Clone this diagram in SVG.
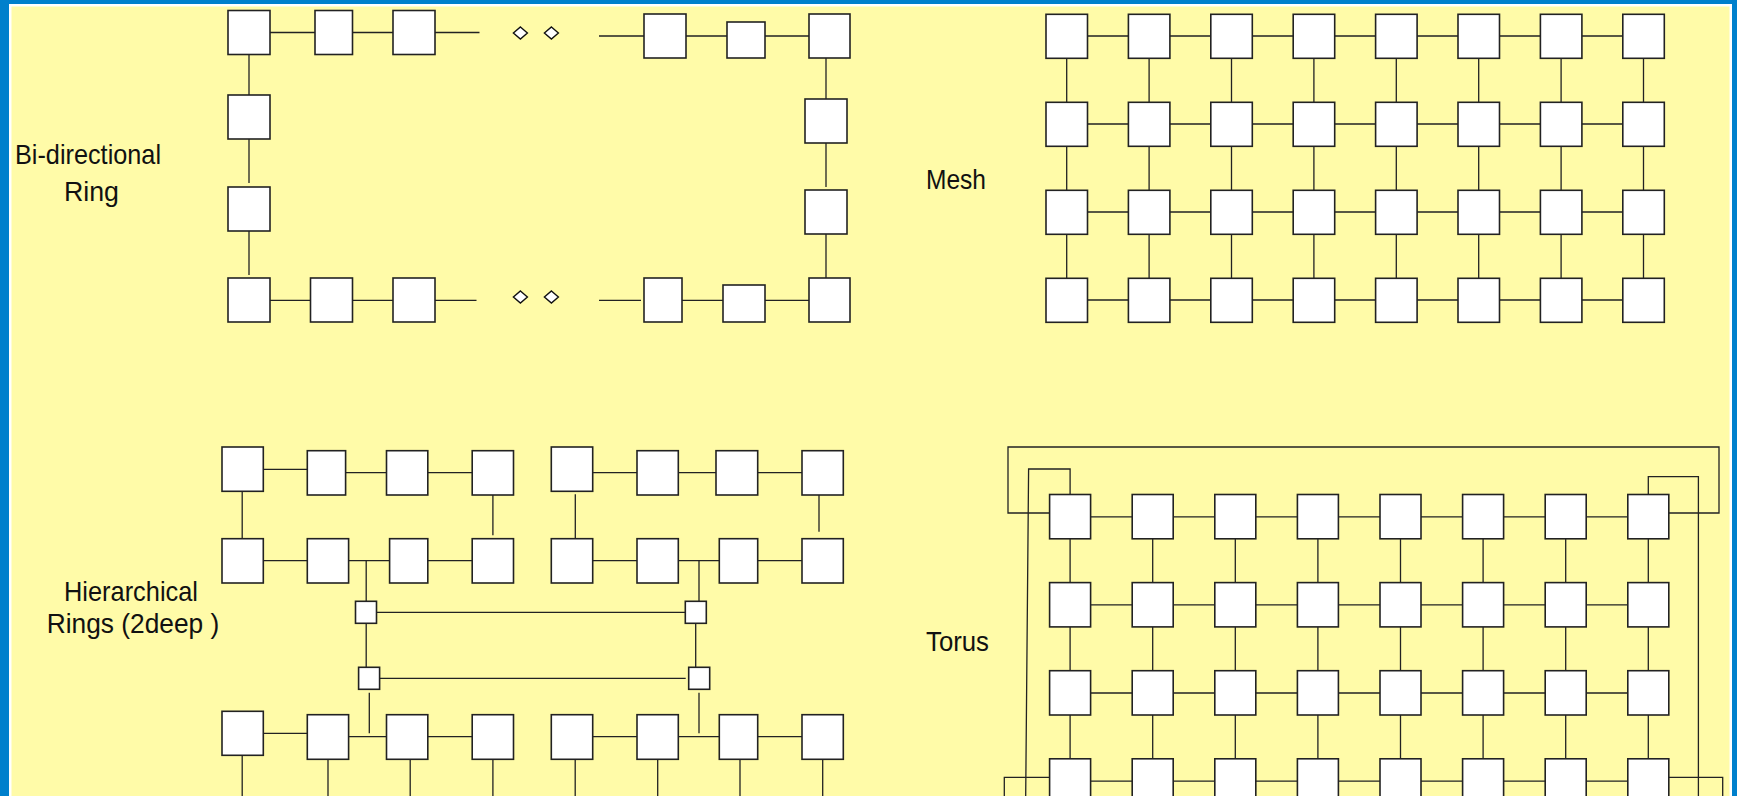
<svg xmlns="http://www.w3.org/2000/svg" width="1737" height="796" viewBox="0 0 1737 796">
<style>
.n{fill:#fff;stroke:#222;stroke-width:1.6}
.d{fill:#fff;stroke:#111;stroke-width:1.4}
.c path{fill:none;stroke:#222;stroke-width:1.3}
.t{font-family:"Liberation Sans",Arial,sans-serif;font-size:28px;fill:#111}
</style>
<rect x="0" y="0" width="1737" height="796" fill="#0080cc"/>
<rect x="9" y="4" width="1723" height="792" fill="#ffffff"/>
<rect x="11.5" y="6.5" width="1718" height="790" fill="#fffba8"/>

<g id="labels">
<text class="t" x="15" y="163.5" textLength="146" lengthAdjust="spacingAndGlyphs">Bi-directional</text>
<text class="t" x="64" y="200.5" textLength="55" lengthAdjust="spacingAndGlyphs">Ring</text>
<text class="t" x="926" y="189" textLength="60" lengthAdjust="spacingAndGlyphs">Mesh</text>
<text class="t" x="64" y="600.7" textLength="134" lengthAdjust="spacingAndGlyphs">Hierarchical</text>
<text class="t" x="46.7" y="632.7" textLength="172.6" lengthAdjust="spacingAndGlyphs">Rings (2deep )</text>
<text class="t" x="926" y="651" textLength="63" lengthAdjust="spacingAndGlyphs">Torus</text>
</g>

<!-- connectors -->
<g id="connectors" class="c">
<!-- ring -->
<path d="M270 32.5H315M352 32.5H395M435 32.5H479.5"/>
<path d="M599 36H644M682 36H727M765 36H809"/>
<path d="M826 54V99M826 143V187M826 234V278"/>
<path d="M266 300.3H310M352 300.3H393M435 300.3H476.5"/>
<path d="M599 300.3H641M682 300.3H727M765 300.3H809"/>
<path d="M249 54V97M249 139V183M249 231V275"/>
<!-- mesh -->
<path d="M1083 36H1128.4M1165.4 36H1210.8M1247.8 36H1293.2M1330.2 36H1375.6M1412.6 36H1458M1495 36H1540.4M1577.4 36H1622.8"/>
<path d="M1083 124H1128.4M1165.4 124H1210.8M1247.8 124H1293.2M1330.2 124H1375.6M1412.6 124H1458M1495 124H1540.4M1577.4 124H1622.8"/>
<path d="M1083 212H1128.4M1165.4 212H1210.8M1247.8 212H1293.2M1330.2 212H1375.6M1412.6 212H1458M1495 212H1540.4M1577.4 212H1622.8"/>
<path d="M1083 300H1128.4M1165.4 300H1210.8M1247.8 300H1293.2M1330.2 300H1375.6M1412.6 300H1458M1495 300H1540.4M1577.4 300H1622.8"/>
<path d="M1066.7 58V102M1066.7 146V190M1066.7 234V278"/>
<path d="M1149.1 58V102M1149.1 146V190M1149.1 234V278"/>
<path d="M1231.5 58V102M1231.5 146V190M1231.5 234V278"/>
<path d="M1313.9 58V102M1313.9 146V190M1313.9 234V278"/>
<path d="M1396.3 58V102M1396.3 146V190M1396.3 234V278"/>
<path d="M1478.7 58V102M1478.7 146V190M1478.7 234V278"/>
<path d="M1561.1 58V102M1561.1 146V190M1561.1 234V278"/>
<path d="M1643.5 58V102M1643.5 146V190M1643.5 234V278"/>
<!-- hierarchical -->
<path d="M263.3 469.3H307.3M345.6 472.7H386.5M427.8 472.7H472.2M242.2 491.3V538.7M492.9 491V535.3"/>
<path d="M592.7 472.7H637M674.7 472.7H720M757.7 472.7H802M575.3 494.3V538.7M819 495V531.7"/>
<path d="M263.3 560.7H307.3M345.6 560.7H389.6M427.8 560.7H472.2M592.7 560.7H637M674.7 560.7H719.3M757.7 560.7H802"/>
<path d="M366.2 560.7V601.3M699 560.7V601.3M376.5 612.3H685.3M366.2 623.3V667.3M695.7 623.3V667.3M379.6 678.3H685.7M369.3 692.7V733.3M699 692.7V733.3"/>
<path d="M263.3 733.3H307.3M345.6 736.7H386.5M427.8 736.7H472.2M592.7 736.7H637M674.7 736.7H719.3M757.7 736.7H802"/>
<path d="M242.2 755.3V796M328 759.3V796M410.2 759.3V796M492.9 759.3V796M575.2 759.3V796M657.7 759.3V796M740 759.3V796M822.7 759.3V796"/>
<!-- torus -->
<path d="M1087 516.8H1132.2M1169.7 516.8H1214.8M1252.3 516.8H1297.4M1334.9 516.8H1380M1417.5 516.8H1462.6M1500.1 516.8H1545.2M1582.7 516.8H1627.8"/>
<path d="M1087 604.9H1132.2M1169.7 604.9H1214.8M1252.3 604.9H1297.4M1334.9 604.9H1380M1417.5 604.9H1462.6M1500.1 604.9H1545.2M1582.7 604.9H1627.8"/>
<path d="M1087 693H1132.2M1169.7 693H1214.8M1252.3 693H1297.4M1334.9 693H1380M1417.5 693H1462.6M1500.1 693H1545.2M1582.7 693H1627.8"/>
<path d="M1087 781.1H1132.2M1169.7 781.1H1214.8M1252.3 781.1H1297.4M1334.9 781.1H1380M1417.5 781.1H1462.6M1500.1 781.1H1545.2M1582.7 781.1H1627.8"/>
<path d="M1070.1 538.8V582.6M1070.1 626.9V670.7M1070.1 715V758.8"/>
<path d="M1152.7 538.8V582.6M1152.7 626.9V670.7M1152.7 715V758.8"/>
<path d="M1235.3 538.8V582.6M1235.3 626.9V670.7M1235.3 715V758.8"/>
<path d="M1317.9 538.8V582.6M1317.9 626.9V670.7M1317.9 715V758.8"/>
<path d="M1400.5 538.8V582.6M1400.5 626.9V670.7M1400.5 715V758.8"/>
<path d="M1483.1 538.8V582.6M1483.1 626.9V670.7M1483.1 715V758.8"/>
<path d="M1565.7 538.8V582.6M1565.7 626.9V670.7M1565.7 715V758.8"/>
<path d="M1648.3 538.8V582.6M1648.3 626.9V670.7M1648.3 715V758.8"/>
<path d="M1049.6 513H1008V447H1719V513H1668.8"/>
<path d="M1070.1 494.5V469H1028.6L1025.7 796"/>
<path d="M1648.3 499V476.7H1698.4V796"/>
<path d="M1049.6 777.3H1004.3V796"/>
<path d="M1668.8 777.3H1722.7V796"/>
</g>

<!-- bi-directional ring nodes -->
<g id="ring-t1"><rect class="n" x="228" y="10.5" width="42" height="44"/></g>
<g id="ring-t2"><rect class="n" x="315" y="10.5" width="37.5" height="44"/></g>
<g id="ring-t3"><rect class="n" x="393" y="10.5" width="42" height="44"/></g>
<g id="ring-t4"><rect class="n" x="644" y="14" width="42" height="44"/></g>
<g id="ring-t5"><rect class="n" x="727" y="22" width="38" height="36"/></g>
<g id="ring-t6"><rect class="n" x="809" y="14" width="41" height="44"/></g>
<g id="ring-l1"><rect class="n" x="228" y="95" width="42" height="44"/></g>
<g id="ring-l2"><rect class="n" x="228" y="187" width="42" height="44"/></g>
<g id="ring-r1"><rect class="n" x="805" y="99" width="42" height="44"/></g>
<g id="ring-r2"><rect class="n" x="805" y="190" width="42" height="44"/></g>
<g id="ring-b1"><rect class="n" x="228" y="278" width="42" height="44"/></g>
<g id="ring-b2"><rect class="n" x="310.5" y="278" width="42" height="44"/></g>
<g id="ring-b3"><rect class="n" x="393" y="278" width="42" height="44"/></g>
<g id="ring-b4"><rect class="n" x="644" y="278" width="38" height="44"/></g>
<g id="ring-b5"><rect class="n" x="723" y="285" width="42" height="37"/></g>
<g id="ring-b6"><rect class="n" x="809" y="278" width="41" height="44"/></g>
<g id="ring-ellipsis">
<polygon class="d" points="520.4,27 527.4,33 520.4,39 513.4,33"/>
<polygon class="d" points="551.4,27 558.4,33 551.4,39 544.4,33"/>
<polygon class="d" points="520.4,291 527.4,297 520.4,303 513.4,297"/>
<polygon class="d" points="551.4,291 558.4,297 551.4,303 544.4,297"/>
</g>

<!-- mesh nodes -->
<g id="mesh-r1">
<rect class="n" x="1046" y="14.3" width="41.5" height="44"/><rect class="n" x="1128.4" y="14.3" width="41.5" height="44"/><rect class="n" x="1210.8" y="14.3" width="41.5" height="44"/><rect class="n" x="1293.2" y="14.3" width="41.5" height="44"/><rect class="n" x="1375.6" y="14.3" width="41.5" height="44"/><rect class="n" x="1458" y="14.3" width="41.5" height="44"/><rect class="n" x="1540.4" y="14.3" width="41.5" height="44"/><rect class="n" x="1622.8" y="14.3" width="41.5" height="44"/>
</g>
<g id="mesh-r2">
<rect class="n" x="1046" y="102.3" width="41.5" height="44"/><rect class="n" x="1128.4" y="102.3" width="41.5" height="44"/><rect class="n" x="1210.8" y="102.3" width="41.5" height="44"/><rect class="n" x="1293.2" y="102.3" width="41.5" height="44"/><rect class="n" x="1375.6" y="102.3" width="41.5" height="44"/><rect class="n" x="1458" y="102.3" width="41.5" height="44"/><rect class="n" x="1540.4" y="102.3" width="41.5" height="44"/><rect class="n" x="1622.8" y="102.3" width="41.5" height="44"/>
</g>
<g id="mesh-r3">
<rect class="n" x="1046" y="190.3" width="41.5" height="44"/><rect class="n" x="1128.4" y="190.3" width="41.5" height="44"/><rect class="n" x="1210.8" y="190.3" width="41.5" height="44"/><rect class="n" x="1293.2" y="190.3" width="41.5" height="44"/><rect class="n" x="1375.6" y="190.3" width="41.5" height="44"/><rect class="n" x="1458" y="190.3" width="41.5" height="44"/><rect class="n" x="1540.4" y="190.3" width="41.5" height="44"/><rect class="n" x="1622.8" y="190.3" width="41.5" height="44"/>
</g>
<g id="mesh-r4">
<rect class="n" x="1046" y="278.3" width="41.5" height="44"/><rect class="n" x="1128.4" y="278.3" width="41.5" height="44"/><rect class="n" x="1210.8" y="278.3" width="41.5" height="44"/><rect class="n" x="1293.2" y="278.3" width="41.5" height="44"/><rect class="n" x="1375.6" y="278.3" width="41.5" height="44"/><rect class="n" x="1458" y="278.3" width="41.5" height="44"/><rect class="n" x="1540.4" y="278.3" width="41.5" height="44"/><rect class="n" x="1622.8" y="278.3" width="41.5" height="44"/>
</g>

<!-- hierarchical ring nodes -->
<g id="hier-r1">
<rect class="n" x="222" y="447" width="41.3" height="44.3"/><rect class="n" x="307.3" y="450.7" width="38.3" height="44.3"/><rect class="n" x="386.5" y="450.7" width="41.3" height="44.3"/><rect class="n" x="472.2" y="450.7" width="41.3" height="44.3"/><rect class="n" x="551.3" y="447" width="41.4" height="44.3"/><rect class="n" x="637" y="450.7" width="41.3" height="44.3"/><rect class="n" x="716" y="450.7" width="41.7" height="44.3"/><rect class="n" x="802" y="450.7" width="41.3" height="44.3"/>
</g>
<g id="hier-r2">
<rect class="n" x="222" y="538.7" width="41.3" height="44.3"/><rect class="n" x="307.3" y="538.7" width="41.3" height="44.3"/><rect class="n" x="389.6" y="538.7" width="38.2" height="44.3"/><rect class="n" x="472.2" y="538.7" width="41.3" height="44.3"/><rect class="n" x="551.3" y="538.7" width="41.4" height="44.3"/><rect class="n" x="637" y="538.7" width="41.3" height="44.3"/><rect class="n" x="719.3" y="538.7" width="38.4" height="44.3"/><rect class="n" x="802" y="538.7" width="41.3" height="44.3"/>
</g>
<g id="hier-upper-a"><rect class="n" x="355.5" y="601.3" width="21" height="22"/></g>
<g id="hier-upper-b"><rect class="n" x="685.3" y="601.3" width="21" height="22"/></g>
<g id="hier-lower-a"><rect class="n" x="358.6" y="667.3" width="21" height="22"/></g>
<g id="hier-lower-b"><rect class="n" x="688.7" y="667.3" width="21" height="22"/></g>
<g id="hier-r3">
<rect class="n" x="222" y="711.3" width="41.3" height="44"/><rect class="n" x="307.3" y="714.7" width="41.3" height="44.6"/><rect class="n" x="386.5" y="714.7" width="41.3" height="44.6"/><rect class="n" x="472.2" y="714.7" width="41.3" height="44.6"/><rect class="n" x="551.3" y="714.7" width="41.4" height="44.6"/><rect class="n" x="637" y="714.7" width="41.3" height="44.6"/><rect class="n" x="719.3" y="714.7" width="38.4" height="44.6"/><rect class="n" x="802" y="714.7" width="41.3" height="44.6"/>
</g>

<!-- torus nodes -->
<g id="torus-r1">
<rect class="n" x="1049.6" y="494.5" width="41" height="44.3"/><rect class="n" x="1132.2" y="494.5" width="41" height="44.3"/><rect class="n" x="1214.8" y="494.5" width="41" height="44.3"/><rect class="n" x="1297.4" y="494.5" width="41" height="44.3"/><rect class="n" x="1380" y="494.5" width="41" height="44.3"/><rect class="n" x="1462.6" y="494.5" width="41" height="44.3"/><rect class="n" x="1545.2" y="494.5" width="41" height="44.3"/><rect class="n" x="1627.8" y="494.5" width="41" height="44.3"/>
</g>
<g id="torus-r2">
<rect class="n" x="1049.6" y="582.6" width="41" height="44.3"/><rect class="n" x="1132.2" y="582.6" width="41" height="44.3"/><rect class="n" x="1214.8" y="582.6" width="41" height="44.3"/><rect class="n" x="1297.4" y="582.6" width="41" height="44.3"/><rect class="n" x="1380" y="582.6" width="41" height="44.3"/><rect class="n" x="1462.6" y="582.6" width="41" height="44.3"/><rect class="n" x="1545.2" y="582.6" width="41" height="44.3"/><rect class="n" x="1627.8" y="582.6" width="41" height="44.3"/>
</g>
<g id="torus-r3">
<rect class="n" x="1049.6" y="670.7" width="41" height="44.3"/><rect class="n" x="1132.2" y="670.7" width="41" height="44.3"/><rect class="n" x="1214.8" y="670.7" width="41" height="44.3"/><rect class="n" x="1297.4" y="670.7" width="41" height="44.3"/><rect class="n" x="1380" y="670.7" width="41" height="44.3"/><rect class="n" x="1462.6" y="670.7" width="41" height="44.3"/><rect class="n" x="1545.2" y="670.7" width="41" height="44.3"/><rect class="n" x="1627.8" y="670.7" width="41" height="44.3"/>
</g>
<g id="torus-r4">
<rect class="n" x="1049.6" y="758.8" width="41" height="44.3"/><rect class="n" x="1132.2" y="758.8" width="41" height="44.3"/><rect class="n" x="1214.8" y="758.8" width="41" height="44.3"/><rect class="n" x="1297.4" y="758.8" width="41" height="44.3"/><rect class="n" x="1380" y="758.8" width="41" height="44.3"/><rect class="n" x="1462.6" y="758.8" width="41" height="44.3"/><rect class="n" x="1545.2" y="758.8" width="41" height="44.3"/><rect class="n" x="1627.8" y="758.8" width="41" height="44.3"/>
</g>
</svg>
